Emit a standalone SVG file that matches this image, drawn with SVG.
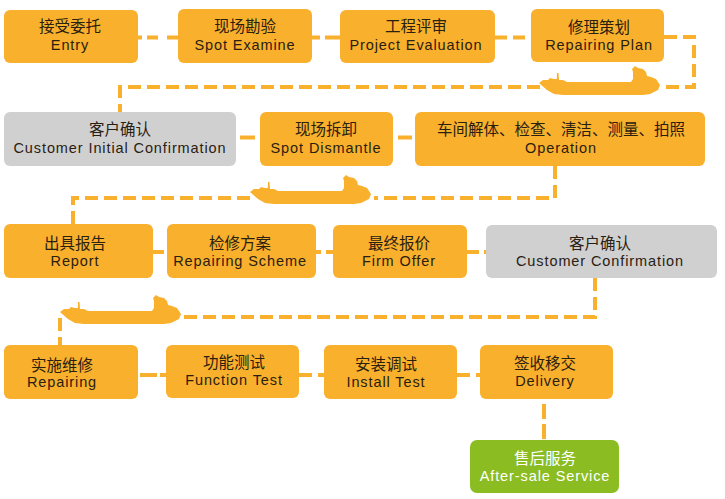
<svg xmlns="http://www.w3.org/2000/svg" width="725" height="499" viewBox="0 0 725 499">
<style>
.o{fill:#f9b02c}.g{fill:#d0d0d0}.v{fill:#8bbd22}
.c{fill:none;stroke:#f9b02c;stroke-width:4}
.d{stroke-dasharray:13 6}
text{font-family:"Liberation Sans","Noto Sans CJK SC",sans-serif;font-size:15.5px;fill:#2a2012;text-anchor:middle}
.e{font-size:14.5px;letter-spacing:.9px}
.w{fill:#fff}
</style>
<defs>
<path id="ship" class="o" d="M0 17 L4 14 L9 14 L11 12 L15 13 L17.800 13 L18 7 L19.500 7 L20 14 L24 14 L28 16 L92 16 L94 13 L94 6 L93 3 L96 0 L99 2 L104 3 L107 6 L108 10 L112 11 L117 13 L121 19 L119 24 L111 28 L104 29 L24 29 L15 28 L8 24 Z"/>
</defs>
<g id="connectors">
<path class="c" d="M138 37.500H142M147 37.500H158M167 37.500H178M312 37.500H320M325 37.500H340M495 37.500H507M513 37.500H525"/>
<path class="c d" d="M664 37H694V87H660"/>
<path class="c d" d="M540 87H120V112"/>
<path class="c" d="M240 137.500H255M398 137.500H412"/>
<path class="c d" d="M555 166V198H374"/>
<path class="c d" d="M250 198H73V224"/>
<path class="c" d="M153 252H164M316 252H321M326 252H333M467 252H479M484 252H486"/>
<path class="c d" d="M595 278V317H184"/>
<path class="c d" d="M60 318V345"/>
<path class="c" d="M140 375H157M160 375H166M299 375H312M318 375H324M457 375H470M476 375H480"/>
<path class="c" d="M544 404V419M544 424V439"/>
</g>
<g id="ship1"><use href="#ship" x="539" y="66"/></g>
<g id="ship2"><use href="#ship" x="250" y="175"/></g>
<g id="ship3"><use href="#ship" x="60" y="295"/></g>
<g id="n1"><rect class="o" x="4" y="10" width="134" height="53" rx="6"/><text x="70" y="32">接受委托</text><text class="e" x="70" y="50">Entry</text></g>
<g id="n2"><rect class="o" x="178" y="9" width="134" height="54" rx="6"/><text x="245" y="32">现场勘验</text><text class="e" x="245" y="50">Spot Examine</text></g>
<g id="n3"><rect class="o" x="340" y="10" width="155" height="53" rx="6"/><text x="416" y="32">工程评审</text><text class="e" x="416" y="50">Project Evaluation</text></g>
<g id="n4"><rect class="o" x="531" y="9" width="133" height="53" rx="6"/><text x="599" y="33">修理策划</text><text class="e" x="599" y="50">Repairing Plan</text></g>
<g id="n5"><rect class="g" x="4" y="112" width="232" height="54" rx="6"/><text x="120" y="135">客户确认</text><text class="e" x="120" y="153">Customer Initial Confirmation</text></g>
<g id="n6"><rect class="o" x="260" y="112" width="133" height="54" rx="6"/><text x="326" y="135">现场拆卸</text><text class="e" x="326" y="153">Spot Dismantle</text></g>
<g id="n7"><rect class="o" x="415" y="112" width="290" height="54" rx="6"/><text x="561" y="135">车间解体、检查、清洁、测量、拍照</text><text class="e" x="561" y="153">Operation</text></g>
<g id="n8"><rect class="o" x="4" y="224" width="149" height="54" rx="6"/><text x="75" y="249">出具报告</text><text class="e" x="75" y="266">Report</text></g>
<g id="n9"><rect class="o" x="167" y="224" width="149" height="54" rx="6"/><text x="240" y="249">检修方案</text><text class="e" x="240" y="266">Repairing Scheme</text></g>
<g id="n10"><rect class="o" x="333" y="225" width="134" height="53" rx="6"/><text x="399" y="249">最终报价</text><text class="e" x="399" y="266">Firm Offer</text></g>
<g id="n11"><rect class="g" x="486" y="225" width="231" height="53" rx="6"/><text x="600" y="249">客户确认</text><text class="e" x="600" y="266">Customer Confirmation</text></g>
<g id="n12"><rect class="o" x="4" y="345" width="134" height="54" rx="6"/><text x="62" y="371">实施维修</text><text class="e" x="62" y="387">Repairing</text></g>
<g id="n13"><rect class="o" x="166" y="345" width="133" height="53" rx="6"/><text x="234" y="368">功能测试</text><text class="e" x="234" y="385">Function Test</text></g>
<g id="n14"><rect class="o" x="324" y="345" width="133" height="54" rx="6"/><text x="386" y="370">安装调试</text><text class="e" x="386" y="387">Install Test</text></g>
<g id="n15"><rect class="o" x="480" y="345" width="133" height="54" rx="6"/><text x="545" y="369">签收移交</text><text class="e" x="545" y="386">Delivery</text></g>
<g id="n16"><rect class="v" x="470" y="440" width="149" height="53" rx="7"/><text class="w" x="545" y="464">售后服务</text><text class="e w" x="545" y="481">After-sale Service</text></g>
</svg>
